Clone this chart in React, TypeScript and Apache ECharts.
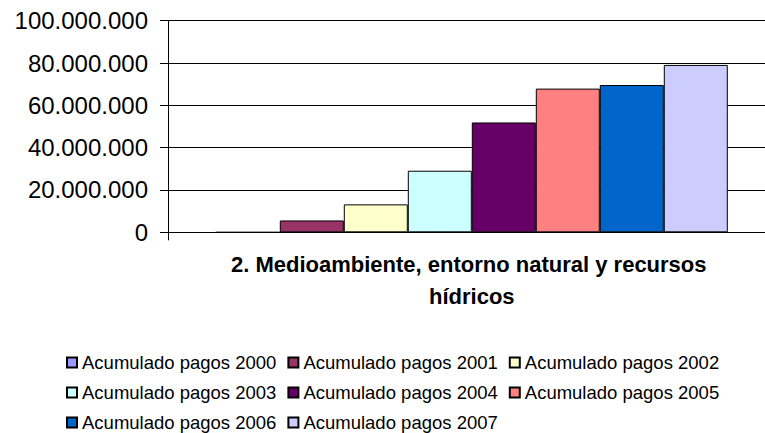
import React, { useEffect, useRef } from "react";
import * as echarts from "echarts";

const categories = ["2. Medioambiente, entorno natural y recursos hídricos"];
const seriesNames = [
  "Acumulado pagos 2000",
  "Acumulado pagos 2001",
  "Acumulado pagos 2002",
  "Acumulado pagos 2003",
  "Acumulado pagos 2004",
  "Acumulado pagos 2005",
  "Acumulado pagos 2006",
  "Acumulado pagos 2007",
];
const seriesValues = [0, 5600000, 13200000, 29100000, 51900000, 67900000, 69600000, 79100000];
const seriesColors = ["#9999FF", "#993366", "#FFFFCC", "#CCFFFF", "#660066", "#FF8080", "#0066CC", "#CCCCFF"];
const yMin = 0;
const yMax = 100000000;
const yInterval = 20000000;

const FONT = "'Liberation Sans', Arial, sans-serif";

function fmt(v: number): string {
  return String(Math.round(v)).replace(/\B(?=(\d{3})+(?!\d))/g, ".");
}

export default function App() {
  const ref = useRef<HTMLDivElement>(null);
  useEffect(() => {
    if (!ref.current) return;
    const chart = echarts.init(ref.current, undefined, { renderer: "svg" });
    chart.setOption({
      animation: false,
      backgroundColor: "#ffffff",
      textStyle: { fontFamily: FONT },
      grid: {
        left: 168,
        top: 20.7,
        height: 211.6,
        width: 607.6,
        containLabel: false,
        outerBoundsMode: "none",
      },
      legend: {
        data: seriesNames,
        left: 66,
        top: 353,
        width: 690,
        padding: 0,
        itemWidth: 10,
        itemHeight: 10,
        itemGap: 11,
        icon: "rect",
        textStyle: { fontFamily: FONT, fontSize: 18.5, color: "#000", lineHeight: 17, padding: [0, 0, 0, 0] },
      },
      xAxis: {
        type: "category",
        data: categories,
        axisLine: { show: true, lineStyle: { color: "#000", width: 1 } },
        axisTick: { show: true, length: 8, lineStyle: { color: "#000" } },
        splitLine: { show: false },
        axisLabel: {
          color: "#000",
          fontFamily: FONT,
          fontSize: 22,
          fontWeight: "bold",
          lineHeight: 32,
          margin: 16,
          width: 540,
          overflow: "break",
          align: "center",
        },
      },
      yAxis: {
        type: "value",
        min: yMin,
        max: yMax,
        interval: yInterval,
        axisLine: { show: true, lineStyle: { color: "#000", width: 1 } },
        axisTick: { show: true, length: 8, lineStyle: { color: "#000" } },
        splitLine: { show: true, lineStyle: { color: "#000", width: 1 } },
        axisLabel: {
          color: "#000",
          fontFamily: FONT,
          fontSize: 24,
          margin: 20,
          formatter: (v: number) => fmt(v),
        },
      },
      series: seriesNames.map((name, i) => ({
        name,
        type: "bar",
        barWidth: 64,
        barGap: "0%",
        data: [seriesValues[i]],
        itemStyle: { color: seriesColors[i], borderColor: "#000", borderWidth: 1 },
      })),
    });
    return () => chart.dispose();
  }, []);
  return <div ref={ref} style={{ position: "fixed", left: 0, top: 0, width: 765, height: 433 }} />;
}
